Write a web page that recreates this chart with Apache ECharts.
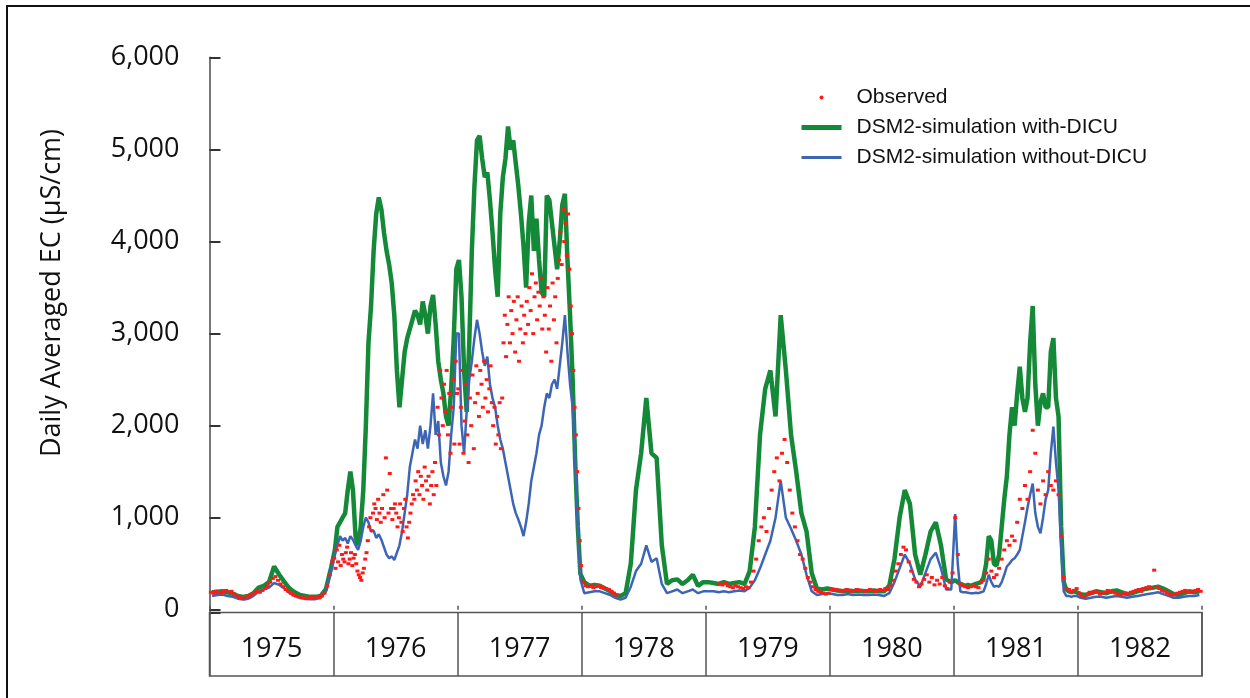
<!DOCTYPE html>
<html>
<head>
<meta charset="utf-8">
<title>Daily Averaged EC 1975-1982</title>
<script src="https://cdn.jsdelivr.net/npm/echarts@6.0.0/dist/echarts.min.js"></script>
<style>
  html, body { margin: 0; padding: 0; background: #ffffff; }
  #chart { width: 1250px; height: 698px; }
</style>
</head>
<body>
<div id="chart"></div>
<script>
// Years shown in the boxes under the plot
const years = ['1975', '1976', '1977', '1978', '1979', '1980', '1981', '1982'];
const firstYear = 1975;

// Simulated EC with DICU (µS/cm); samples per year listed in withDicuCounts
const withDicuCounts = [24, 48, 48, 24, 24, 24, 48, 24];
const withDicu = [
  // 1975
  190, 195, 200, 190, 175, 150, 140, 150, 180, 240, 260, 300, 470, 380, 300, 230, 190, 160, 150, 140, 140, 150, 220, 450,
  // 1976
  650, 900, 950, 1000, 1050, 1300, 1500, 1300, 800, 700, 900, 1300, 2000, 2900, 3300, 3900, 4300, 4480, 4350, 4100, 3900, 3750, 3550, 3200,
  2600, 2200, 2500, 2800, 2950, 3050, 3150, 3250, 3200, 3100, 3350, 3200, 3000, 3300, 3420, 3100, 2700, 2500, 2350, 2100, 2000, 2400, 2950, 3700,
  // 1977
  3800, 3400, 2600, 2150, 2900, 3900, 4600, 5100, 5150, 4900, 4700, 4750, 4450, 4100, 3700, 3400, 4300, 4700, 4900, 5250, 5000, 5100, 4850, 4600,
  4300, 3950, 3500, 4200, 4500, 3900, 4250, 3800, 3450, 3400, 4500, 4450, 4200, 3950, 3700, 4000, 4400, 4520, 3800, 3200, 2500, 1600, 900, 390,
  // 1978
  300, 260, 270, 260, 230, 200, 160, 150, 180, 500, 1300, 1700, 2300, 1700, 1650, 700, 280, 320, 330, 280, 320, 380, 260, 300,
  // 1979
  300, 290, 280, 300, 280, 290, 300, 280, 420, 900, 1900, 2400, 2600, 2100, 3200, 2600, 1900, 1500, 1050, 850, 400, 230, 220, 230,
  // 1980
  220, 210, 200, 210, 200, 210, 200, 200, 210, 200, 200, 260, 550, 1000, 1300, 1150, 600, 380, 600, 850, 950, 700, 330, 300,
  // 1981
  320, 300, 280, 270, 260, 270, 260, 270, 280, 290, 300, 350, 500, 800, 750, 500, 480, 600, 900, 1200, 1450, 1900, 2200, 2000,
  2350, 2640, 2300, 2150, 2300, 2900, 3300, 2450, 2000, 2250, 2350, 2200, 2200, 2800, 2950, 2300, 2100, 900, 300, 220, 200, 190, 200, 190,
  // 1982
  170, 160, 180, 200, 190, 180, 200, 210, 190, 170, 180, 200, 220, 230, 240, 250, 230, 200, 170, 160, 180, 200, 190, 200
];

// Simulated EC without DICU (µS/cm)
const withoutDicuCounts = [24, 48, 48, 24, 24, 24, 48, 24];
const withoutDicu = [
  // 1975
  150, 160, 165, 150, 140, 120, 110, 120, 150, 200, 220, 240, 290, 270, 230, 180, 150, 130, 120, 115, 115, 130, 200, 420,
  // 1976
  600, 700, 800, 750, 780, 720, 800, 760, 700, 650, 750, 900, 1000, 950, 850, 860, 780, 820, 760, 680, 600, 560, 580, 540,
  620, 700, 850, 1050, 1250, 1550, 1700, 1850, 1750, 2000, 1800, 1950, 1750, 2000, 2350, 1900, 2050, 1600, 1450, 1350, 1500, 1900, 2200, 3000,
  // 1977
  3000, 2000, 1700, 2150, 2500, 2700, 2950, 3150, 3000, 2800, 2650, 2750, 2450, 2300, 2200, 2000, 1850, 1750, 1600, 1450, 1300, 1150, 1050, 980,
  900, 800, 950, 1150, 1400, 1550, 1700, 1900, 2000, 2200, 2350, 2300, 2450, 2500, 2400, 2650, 2900, 3200, 2800, 2450, 2200, 1600, 900, 330,
  // 1978
  180, 190, 200, 200, 180, 160, 130, 110, 130, 250, 420, 500, 700, 520, 560, 280, 180, 200, 220, 180, 200, 220, 180, 200,
  // 1979
  200, 200, 190, 200, 190, 200, 210, 200, 240, 320, 450, 600, 750, 1000, 1400, 1000, 880, 750, 600, 380, 200, 160, 170, 180,
  // 1980
  170, 160, 160, 170, 160, 165, 160, 160, 165, 160, 150, 180, 300, 450, 600, 500, 330, 250, 400, 550, 620, 450, 220, 220,
  // 1981
  1040, 500, 200, 190, 190, 185, 180, 180, 185, 180, 190, 200, 280, 380, 300, 250, 260, 250, 300, 380, 470, 500, 540, 560,
  600, 650, 800, 950, 1110, 1250, 1370, 1050, 900, 830, 1000, 1200, 1300, 1700, 1990, 1600, 1300, 700, 200, 150, 150, 140, 150, 150,
  // 1982
  130, 120, 130, 140, 140, 130, 140, 150, 140, 130, 140, 150, 160, 170, 180, 190, 170, 150, 130, 130, 140, 150, 150, 160
];

// Observed EC (µS/cm); null = no record
const observedCounts = [48, 96, 96, 48, 48, 48, 48, 48];
const observed = [
  // 1975
  190, 180, 200, 190, 180, 200, 210, 190, 200, 170, 150, 130, 140, 120, 150, 140, 170, 180, 200, 190, 210, 230, 260, 300,
  340, 360, 320, 280, 250, 220, 200, 180, 160, 150, 140, 130, 130, 120, 130, 140, 130, 140, 130, 150, 180, 260, 380, 520,
  // 1976
  560, 450, 650, 520, 700, 480, 600, 550, 520, 620, 680, 500, 550, 620, 480, 560, 600, 500, 420, 380, 350, 320, 400, 450,
  550, 620, 750, 900, 1000, 860, 1050, 1150, 1100, 980, 1200, 1050, 950, 1100, 1250, 1000, 1650, 1300, 1050, 1480, 1100, 980, 1100, 1150,
  1050, 900, 1000, 1150, 950, 850, 1100, 1200, 900, 780, 950, 1050, 1150, 1250, 1200, 1400, 1300, 1500, 1250, 1450, 1350, 1200, 1550, 1400,
  1300, 1450, 1150, 1350, 1500, 1250, 1600, 1350, 2200, 1900, 2600, 2300, 2000, 2450, 2150, 2600, 1900, 2350, 1700, 2200, 2500, 1800, 2700, 2350,
  // 1977
  2400, 1800, 2200, 2600, 1700, 2050, 2450, 1900, 1600, 2300, 2000, 2550, 1750, 2250, 2650, 2350, 2100, 2600, 2450, 2200, 2700, 2300, 2500, 2150,
  2400, 2650, 2250, 2000, 2200, 1800, 2100, 1900, 2250, 1750, 2300, 2900, 3200, 2750, 3100, 3400, 2900, 3250, 3000, 3350, 2800, 3150, 3400, 2700,
  3050, 3300, 2900, 3200, 3000, 3350, 3100, 3500, 3250, 3650, 3000, 3400, 3550, 3150, 3450, 3300, 3600, 3050, 3400, 3200, 2800, 3500, 3050, 3300,
  2700, 3550, 3150, 3400, 2900, 3600, 3800, 4100, 3750, 4350, 4000, 4200, 3850, 4300, 3700, 3300, 3000, 2600, 2200, 1900, 1500, 1100, 750, 480,
  // 1978
  300, 260, 250, 260, 240, 250, 260, 240, 240, 230, 220, 200, 180, 160, null, null, null, null, null, null, null, null, null, null,
  null, null, null, null, null, null, null, null, null, null, null, null, null, null, null, null, null, null, null, null, null, null, null, null,
  // 1979
  null, null, null, null, null, 280, 270, 290, 260, 250, 240, 260, 250, 240, 230, 250, 240, 300, 420, 550, 750, 900, 1000, 850,
  1100, 1300, 1500, 1650, 1400, 1700, 1850, 1600, 1300, 1050, 900, 750, 600, 550, 450, 350, 300, 250, 220, 200, 190, 180, 170, 180,
  // 1980
  220, 210, 220, 210, 200, 210, 220, 210, 200, 210, 220, 210, 210, 200, 210, 220, 210, 200, 210, 220, 210, 230, 220, 260,
  320, 420, 500, 600, 680, 650, 520, 420, 330, 300, 250, 280, 330, 380, 300, 350, 270, 320, 280, 350, 260, 230, 300, 400,
  // 1981
  1000, 600, 280, 260, 250, 240, 250, 260, 250, 240, 300, 320, 400, 550, 420, 350, 380, 450, 550, 650, 750, 700, 800, 750,
  950, 1200, 1100, 1350, 1200, 1500, 1950, 1700, 1300, 1150, 1400, 1250, 1500, 1350, 1300, 1400, 1250, 800, 350, 230, 220, 200, 210, 230,
  // 1982
  180, 150, 140, 170, 190, 180, 200, 190, 170, 180, 190, 210, 200, 190, 180, 170, 160, 170, 180, 170, 190, 200, 210, 220,
  200, 230, 240, 250, 230, 430, 250, 230, 210, 200, 180, 170, 160, 170, 180, 190, 200, 210, 200, 190, 200, 210, 220, 200
];

// Spread each year's samples evenly over that year (x in decimal years)
function toPoints(values, counts) {
  const pts = [];
  let idx = 0;
  counts.forEach(function (n, yi) {
    for (let k = 0; k < n; k++, idx++) {
      const v = values[idx];
      if (v !== null && v !== undefined) pts.push([firstYear + yi + (k + 0.5) / n, v]);
    }
  });
  return pts;
}

const chart = echarts.init(document.getElementById('chart'), null, { renderer: 'canvas' });

const numFont = '"Open Sans", "Noto Sans", sans-serif';
const GREEN = '#148a38';
const BLUE = '#3c66b4';
const RED = '#ff1a1a';

chart.setOption({
  animation: false,
  backgroundColor: '#ffffff',
  grid: [
    { left: 209.5, top: 57.5, width: 992.5, height: 555, containLabel: false },
    { left: 209.5, top: 612.5, width: 992.5, height: 63.5, show: true, borderColor: '#555', borderWidth: 1.5, backgroundColor: 'transparent' }
  ],
  xAxis: [
    {
      type: 'value', gridIndex: 0, min: firstYear, max: firstYear + years.length, interval: 1,
      axisLine: { show: false },
      axisTick: { show: true, inside: true, length: 4, lineStyle: { color: '#555', width: 1.5 } },
      axisLabel: { show: false },
      splitLine: { show: false }
    },
    {
      type: 'category', gridIndex: 1, data: years, boundaryGap: true,
      axisLine: { show: false },
      axisTick: { show: true, inside: true, length: 64, alignWithLabel: false, lineStyle: { color: '#555', width: 1.5 } },
      axisLabel: { show: true, inside: true, margin: 13, fontSize: 27, fontFamily: numFont, color: '#111' },
      splitLine: { show: false }
    }
  ],
  yAxis: [
    {
      type: 'value', gridIndex: 0, min: -30, max: 6000, splitNumber: 6,
      axisLine: { show: true, lineStyle: { color: '#777', width: 2 } },
      axisTick: { show: true, inside: true, length: 11, lineStyle: { color: '#333', width: 2 } },
      axisLabel: {
        show: true, margin: 30, fontSize: 27, fontFamily: numFont, color: '#111',
        formatter: function (v) { return v < 0 ? '' : v.toLocaleString('en-US'); }
      },
      splitLine: { show: false }
    },
    { type: 'value', gridIndex: 1, show: false, min: 0, max: 1 }
  ],
  legend: {
    orient: 'vertical', left: 794, top: 82,
    itemWidth: 40, itemHeight: 4, itemGap: 9,
    textStyle: { fontFamily: '"Liberation Sans", Arial, sans-serif', fontSize: 21, lineHeight: 21, color: '#111', padding: [0, 0, 0, 10] },
    data: [
      { name: 'Observed', icon: 'circle' },
      { name: 'DSM2-simulation with-DICU', lineStyle: { width: 5 } },
      { name: 'DSM2-simulation without-DICU', lineStyle: { width: 3 } }
    ]
  },
  graphic: [
    {
      type: 'rect', silent: true, z: 100,
      shape: { x: 7, y: 6, width: 1400, height: 900 },
      style: { fill: 'none', stroke: '#111', lineWidth: 2 }
    },
    {
      type: 'text', silent: true, x: 52, y: 293, rotation: Math.PI / 2,
      style: {
        text: 'Daily Averaged EC (µS/cm)', fontSize: 27, fontFamily: numFont, fill: '#111',
        align: 'center', verticalAlign: 'middle'
      }
    }
  ],
  series: [
    {
      name: 'DSM2-simulation with-DICU', type: 'line', xAxisIndex: 0, yAxisIndex: 0,
      data: toPoints(withDicu, withDicuCounts), symbol: 'none', smooth: false,
      lineStyle: { color: GREEN, width: 4.5 }, itemStyle: { color: GREEN }, z: 2
    },
    {
      name: 'DSM2-simulation without-DICU', type: 'line', xAxisIndex: 0, yAxisIndex: 0,
      data: toPoints(withoutDicu, withoutDicuCounts), symbol: 'none', smooth: false,
      lineStyle: { color: BLUE, width: 2.5 }, itemStyle: { color: BLUE }, z: 3
    },
    {
      name: 'Observed', type: 'scatter', xAxisIndex: 0, yAxisIndex: 0,
      data: toPoints(observed, observedCounts), symbol: 'rect', symbolSize: [4, 3],
      itemStyle: { color: RED, opacity: 1 }, z: 4
    }
  ]
});
</script>
</body>
</html>
